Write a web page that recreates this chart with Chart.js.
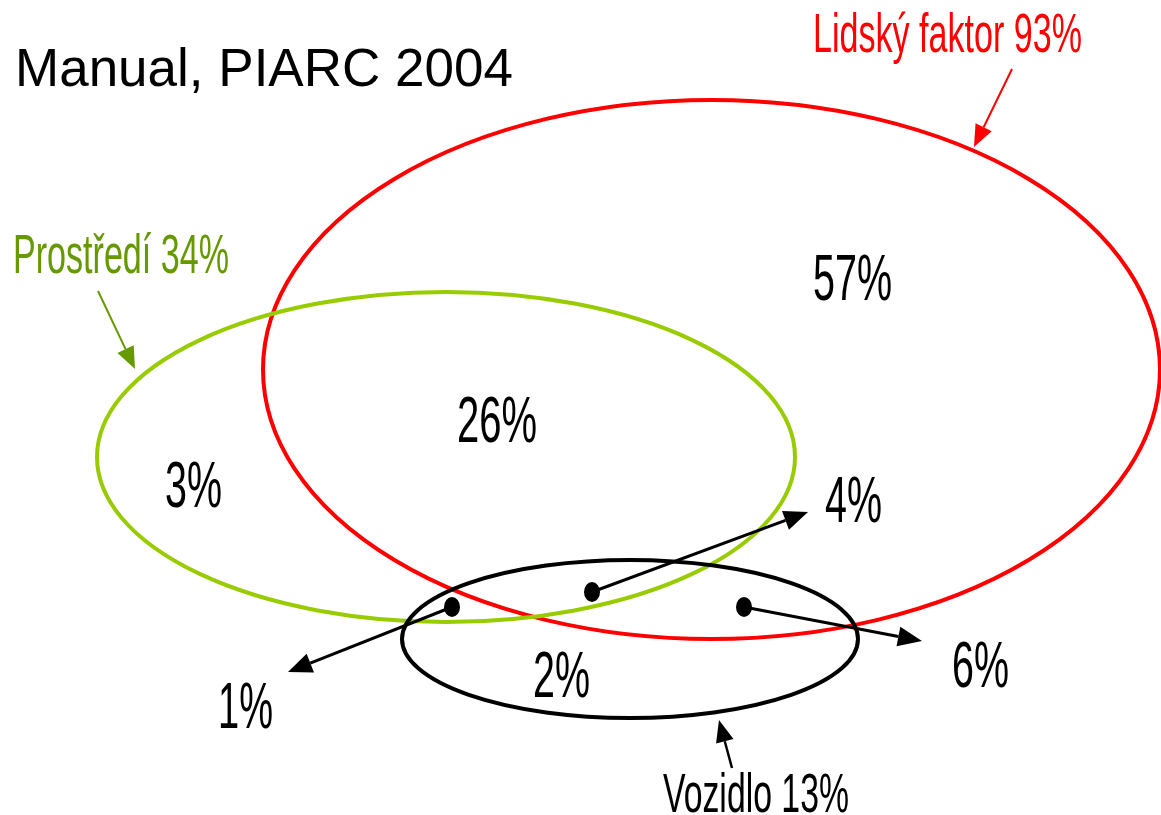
<!DOCTYPE html>
<html>
<head>
<meta charset="utf-8">
<script src="https://cdn.jsdelivr.net/npm/chart.js@4.4.1/dist/chart.umd.min.js"></script>
<style>
html,body{margin:0;padding:0;background:#fff;}
#wrap{width:1161px;height:815px;position:relative;}
</style>
</head>
<body>
<div id="wrap"><canvas id="c"></canvas></div>
<script>
// ---- data ----
const title = "Manual, PIARC 2004";
const setNames = ["Lidský faktor", "Prostředí", "Vozidlo"];
const setTotals = [93, 34, 13];
const regionLabels = ["Lidský jen", "Lidský+Prostředí", "Prostředí jen", "Vše tři", "Lidský+Vozidlo", "Prostředí+Vozidlo", "Vozidlo jen"];
const regionValues = [57, 26, 3, 4, 6, 1, 2];

// ---- geometry (chart coordinates) ----
const ellipseCX = [711.5, 446, 630];
const ellipseCY = [369.5, 457, 639];
const ellipseRX = [448.5, 349, 228];
const ellipseRY = [269.5, 165, 79];
const setColors = ["#ff0000", "#99cc00", "#000000"];
const setTextColors = ["#ff0000", "#669900", "#000000"];
// set label: left x, baseline y, width, font size
const setLabelX = [813, 13, 663];
const setLabelY = [52, 273, 812];
const setLabelW = [269, 216, 186];
const setLabelS = [55, 55, 55];
// set arrows: from -> tip
const setArrowFrom = [[1012, 69], [98, 291], [732, 768]];
const setArrowTo = [[974, 147], [135, 369], [719, 720]];
// region labels: left x, baseline, width
const regX = [813, 457, 165, 825, 952, 218, 533];
const regY = [300, 442, 507, 522, 687, 728, 697];
const regW = [79, 80, 57, 57, 57, 55, 57];
// dot arrows: dot and tip
const dotX = [592, 744, 452];
const dotY = [592, 607, 607];
const dotTipX = [808, 922, 288];
const dotTipY = [512, 641, 672];

const FONT = '"Liberation Sans", Arial, sans-serif';

function fitText(ctx, txt, x, y, w, size, color) {
  ctx.save();
  ctx.font = size + 'px ' + FONT;
  const m = ctx.measureText(txt).width;
  const sx = w / m;
  ctx.translate(x, y);
  ctx.scale(sx, 1);
  ctx.fillStyle = color;
  ctx.textAlign = 'left';
  ctx.textBaseline = 'alphabetic';
  ctx.fillText(txt, 0, 0);
  ctx.restore();
}

function arrow(ctx, x1, y1, x2, y2, color, lw, hl, hw) {
  const a = Math.atan2(y2 - y1, x2 - x1);
  const bx = x2 - hl * Math.cos(a), by = y2 - hl * Math.sin(a);
  ctx.save();
  ctx.strokeStyle = color; ctx.fillStyle = color; ctx.lineWidth = lw;
  ctx.beginPath(); ctx.moveTo(x1, y1); ctx.lineTo(bx, by); ctx.stroke();
  ctx.beginPath();
  ctx.moveTo(x2, y2);
  ctx.lineTo(bx + hw * Math.sin(a), by - hw * Math.cos(a));
  ctx.lineTo(bx - hw * Math.sin(a), by + hw * Math.cos(a));
  ctx.closePath(); ctx.fill();
  ctx.restore();
}

const vennPlugin = {
  id: 'venn',
  afterDatasetsDraw(chart) {
    const ctx = chart.ctx;
    const xs = chart.scales.x, ys = chart.scales.y;
    const px = v => xs.getPixelForValue(v);
    const py = v => ys.getPixelForValue(v);
    // ellipses
    for (let i = 0; i < 3; i++) {
      const cx = px(ellipseCX[i]), cy = py(ellipseCY[i]);
      const rx = Math.abs(px(ellipseCX[i] + ellipseRX[i]) - cx);
      const ry = Math.abs(py(ellipseCY[i] + ellipseRY[i]) - cy);
      ctx.save();
      ctx.strokeStyle = setColors[i];
      ctx.lineWidth = 4;
      ctx.beginPath();
      ctx.ellipse(cx, cy, rx, ry, 0, 0, Math.PI * 2);
      ctx.stroke();
      ctx.restore();
    }
    // title
    ctx.save();
    ctx.font = '53px ' + FONT;
    ctx.fillStyle = '#000';
    ctx.textBaseline = 'alphabetic';
    ctx.fillText(title, px(15), py(86));
    ctx.restore();
    // set labels and arrows
    for (let i = 0; i < 3; i++) {
      fitText(ctx, setNames[i] + ' ' + setTotals[i] + '%', px(setLabelX[i]), py(setLabelY[i]), setLabelW[i], setLabelS[i], setTextColors[i]);
      const f = setArrowFrom[i], t = setArrowTo[i];
      arrow(ctx, px(f[0]), py(f[1]), px(t[0]), py(t[1]), i === 2 ? '#000' : setTextColors[i], i === 2 ? 2.5 : 2, 22, 9);
    }
    // region labels
    for (let i = 0; i < regionValues.length; i++) {
      fitText(ctx, regionValues[i] + '%', px(regX[i]), py(regY[i]), regW[i], 65, '#000');
    }
    // dots with arrows
    for (let i = 0; i < dotX.length; i++) {
      arrow(ctx, px(dotX[i]), py(dotY[i]), px(dotTipX[i]), py(dotTipY[i]), '#000', 3, 24, 10);
      ctx.save();
      ctx.fillStyle = '#000';
      ctx.beginPath();
      ctx.ellipse(px(dotX[i]), py(dotY[i]), 8, 10, 0, 0, Math.PI * 2);
      ctx.fill();
      ctx.restore();
    }
  }
};

new Chart(document.getElementById('c'), {
  type: 'scatter',
  data: {
    datasets: [{
      label: 'centers',
      data: ellipseCX.map((x, i) => ({x: x, y: ellipseCY[i]})),
      pointRadius: 0
    }]
  },
  options: {
    responsive: true,
    maintainAspectRatio: false,
    animation: false,
    layout: {padding: 0},
    plugins: {legend: {display: false}, tooltip: {enabled: false}},
    scales: {
      x: {type: 'linear', min: 0, max: 1161, display: false},
      y: {type: 'linear', min: 0, max: 815, reverse: true, display: false}
    }
  },
  plugins: [vennPlugin]
});
</script>
</body>
</html>
